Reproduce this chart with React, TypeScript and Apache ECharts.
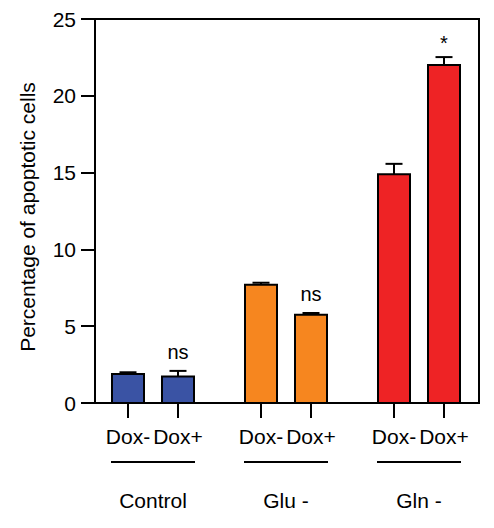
import React, { useEffect, useRef } from "react";
import * as echarts from "echarts";

const groups = ["Control", "Glu -", "Gln -"];
const conditions = ["Dox-", "Dox+"];
const means = [1.88, 1.72, 7.7, 5.75, 14.9, 22.0];
const errors = [0.12, 0.37, 0.13, 0.11, 0.67, 0.52];
const significance = ["", "ns", "", "ns", "", "*"];
const groupColors = ["#3A53A4", "#F6861F", "#EE2325"];
const yTicks = { min: 0, max: 25, interval: 5 };

const FONT = "Liberation Sans, Arial, Helvetica, sans-serif";
const GROUP_STEP = 2.66;
const FS = 21;

export default function App() {
  const ref = useRef<HTMLDivElement>(null);
  useEffect(() => {
    if (!ref.current) return;
    const chart = echarts.init(ref.current, null, { renderer: "svg" });

    const barData = means.map((m, k) => {
      const g = Math.floor(k / conditions.length);
      const i = k % conditions.length;
      return [g * GROUP_STEP + i, m, errors[k], g, conditions[i], significance[k]];
    });
    const groupData = groups.map((name, g) => [g * GROUP_STEP + (conditions.length - 1) / 2, name]);

    const option: any = {
      animation: false,
      grid: {
        left: 95,
        top: 19,
        right: 15,
        bottom: 125,
        show: true,
        borderColor: "#000",
        borderWidth: 2,
      },
      xAxis: {
        type: "value",
        min: -0.66,
        max: 7.02,
        axisLine: { show: true, onZero: false, lineStyle: { color: "#000", width: 2 } },
        axisTick: { show: false },
        axisLabel: { show: false },
        splitLine: { show: false },
      },
      yAxis: {
        type: "value",
        min: yTicks.min,
        max: yTicks.max,
        interval: yTicks.interval,
        name: "Percentage of apoptotic cells",
        nameLocation: "middle",
        nameRotate: 90,
        nameGap: 57,
        nameTextStyle: { fontSize: FS, color: "#000", fontFamily: FONT, padding: [0, 12, 0, 0] },
        axisLine: { show: true, onZero: false, lineStyle: { color: "#000", width: 2 } },
        axisTick: { show: true, length: 14, lineStyle: { color: "#000", width: 2 } },
        axisLabel: { fontSize: FS, color: "#000", fontFamily: FONT, margin: 19 },
        splitLine: { show: false },
      },
      series: [
        {
          type: "custom",
          clip: false,
          data: barData,
          renderItem: (params: any, api: any) => {
            const x = api.value(0);
            const y = api.value(1);
            const err = api.value(2);
            const g = api.value(3);
            const cond = barData[params.dataIndex][4] as string;
            const sig = barData[params.dataIndex][5] as string;
            const top = api.coord([x, y]);
            const base = api.coord([x, 0]);
            const cap = api.coord([x, y + err]);
            const w = 32;
            const capW = 17;
            const children: any[] = [
              {
                type: "rect",
                shape: { x: top[0] - w / 2, y: top[1], width: w, height: base[1] - top[1] },
                style: { fill: groupColors[g], stroke: "#000", lineWidth: 2 },
              },
              {
                type: "line",
                shape: { x1: top[0], y1: top[1], x2: cap[0], y2: cap[1] },
                style: { stroke: "#000", lineWidth: 2 },
              },
              {
                type: "line",
                shape: { x1: cap[0] - capW / 2, y1: cap[1], x2: cap[0] + capW / 2, y2: cap[1] },
                style: { stroke: "#000", lineWidth: 2 },
              },
              {
                type: "line",
                shape: { x1: base[0], y1: base[1], x2: base[0], y2: base[1] + 15 },
                style: { stroke: "#000", lineWidth: 2 },
              },
              {
                type: "text",
                x: base[0],
                y: base[1] + 33,
                style: {
                  text: cond,
                  fontSize: FS,
                  fontFamily: FONT,
                  fill: "#000",
                  align: "center",
                  verticalAlign: "middle",
                },
              },
            ];
            if (sig) {
              children.push({
                type: "text",
                x: cap[0],
                y: cap[1] - (sig === "*" ? 4 : 9),
                style: {
                  text: sig,
                  fontSize: 20,
                  fontFamily: FONT,
                  fill: "#000",
                  align: "center",
                  verticalAlign: "bottom",
                },
              });
            }
            return { type: "group", children };
          },
        },
        {
          type: "custom",
          clip: false,
          data: groupData,
          renderItem: (params: any, api: any) => {
            const x = api.value(0);
            const p = api.coord([x, 0]);
            const name = groupData[params.dataIndex][1] as string;
            return {
              type: "group",
              children: [
                {
                  type: "line",
                  shape: { x1: p[0] - 42, y1: p[1] + 59, x2: p[0] + 42, y2: p[1] + 59 },
                  style: { stroke: "#000", lineWidth: 2 },
                },
                {
                  type: "text",
                  x: p[0],
                  y: p[1] + 97,
                  style: {
                    text: name,
                    fontSize: FS,
                    fontFamily: FONT,
                    fill: "#000",
                    align: "center",
                    verticalAlign: "middle",
                  },
                },
              ],
            };
          },
        },
      ],
    };
    chart.setOption(option);
    return () => chart.dispose();
  }, []);
  return (
    <div
      ref={ref}
      style={{ position: "fixed", left: 0, top: 0, width: 494, height: 528, background: "#fff" }}
    />
  );
}
